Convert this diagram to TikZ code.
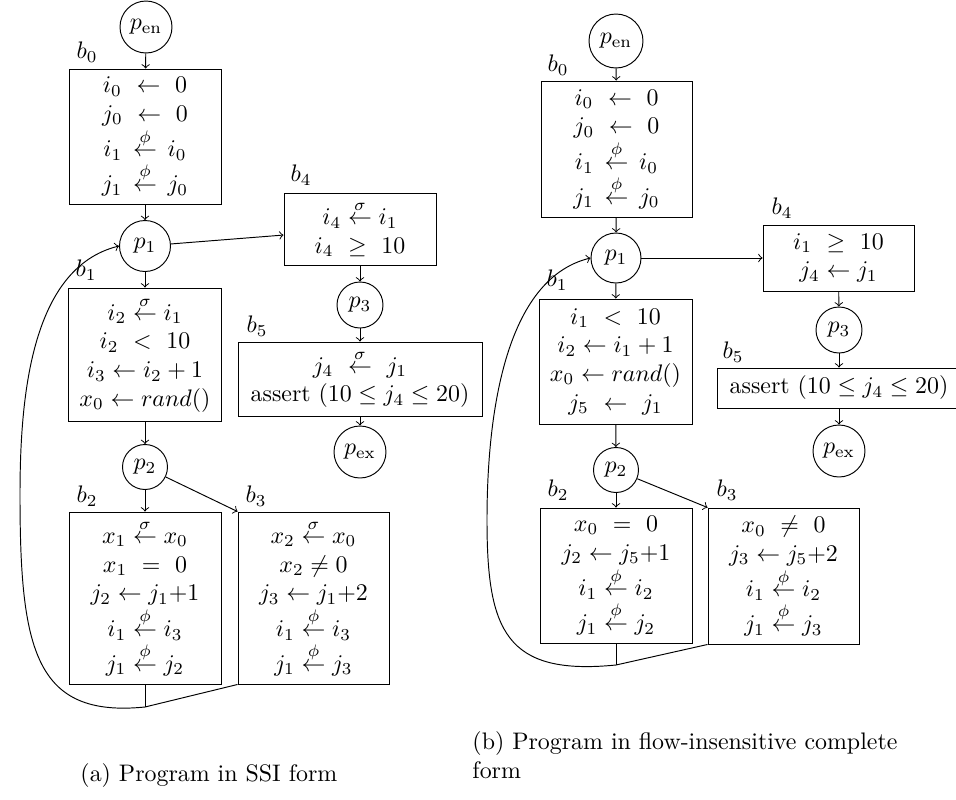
\documentclass[tikz,border=0pt]{standalone}
\usepackage{amsmath}
\def\pxu{0.41841pt}
\begin{document}
\begin{tikzpicture}[x=0.41841pt,y=-0.41841pt,
  blk/.style={draw,align=center,inner sep=0pt},
  circ/.style={draw,circle,inner sep=0pt},
  flow/.style={->},
  plain/.style={-}]
\useasboundingbox (0,0) rectangle (956,800);
% ---------------- left (a) ----------------
\node[circ,minimum size=52*\pxu] (Lpen) at (146,27) {$p_{\mathrm{en}}$};
\node[blk,minimum width=152*\pxu,minimum height=135*\pxu] (Lb0) at (145,136.5)
  {$i_0\ \leftarrow\ 0$\\ $j_0\ \leftarrow\ 0$\\ $i_1\,\stackrel{\phi}{\leftarrow}\,i_0$\\ $j_1\,\stackrel{\phi}{\leftarrow}\,j_0$};
\node (Lb0l) at (87,52) {$b_0$};
\node[circ,minimum size=51*\pxu] (Lp1) at (145,246) {$p_1$};
\node[blk,minimum width=153*\pxu,minimum height=133*\pxu] (Lb1) at (145,354.5)
  {$i_2 \stackrel{\sigma}{\leftarrow} i_1$\\ $i_2\ <\ 10$\\ $i_3 \leftarrow i_2 + 1$\\ $x_0 \leftarrow rand()$};
\node (Lb1l) at (86,270) {$b_1$};
\node[circ,minimum size=45*\pxu] (Lp2) at (145,467) {$p_2$};
\node[blk,minimum width=152*\pxu,minimum height=172*\pxu] (Lb2) at (145,598)
  {$x_1 \stackrel{\sigma}{\leftarrow} x_0$\\ $x_1\ =\ 0$\\ $j_2 \leftarrow j_1{+}1$\\ $i_1 \stackrel{\phi}{\leftarrow} i_3$\\ $j_1 \stackrel{\phi}{\leftarrow} j_2$};
\node (Lb2l) at (87,496) {$b_2$};
\node[blk,minimum width=151*\pxu,minimum height=172*\pxu] (Lb3) at (313.5,598)
  {$x_2 \stackrel{\sigma}{\leftarrow} x_0$\\ $x_2 \neq 0$\\ $j_3 \leftarrow j_1{+}2$\\ $i_1 \stackrel{\phi}{\leftarrow} i_3$\\ $j_1 \stackrel{\phi}{\leftarrow} j_3$};
\node (Lb3l) at (256,496) {$b_3$};
\node[blk,minimum width=152*\pxu,minimum height=72*\pxu] (Lb4) at (360,229)
  {$i_4 \stackrel{\sigma}{\leftarrow} i_1$\\ $i_4\ \geq\ 10$};
\node (Lb4l) at (301,175) {$b_4$};
\node[circ,minimum size=46*\pxu] (Lp3) at (360,305) {$p_3$};
\node[blk,minimum width=244*\pxu,minimum height=74*\pxu] (Lb5) at (360,379)
  {$j_4\ \stackrel{\sigma}{\leftarrow}\ j_1$\\ assert $(10 \leq j_4 \leq 20)$};
\node (Lb5l) at (257,326) {$b_5$};
\node[circ,minimum size=52*\pxu] (Lpex) at (360,452) {$p_{\mathrm{ex}}$};
\coordinate (mL) at (145,707);
\coordinate (cL) at (20,495);
\draw[flow] (Lpen) -- (Lb0);
\draw[flow] (Lb0) -- (Lp1);
\draw[flow] (Lp1) -- (Lb1);
\draw[flow] (Lb1) -- (Lp2);
\draw[flow] (Lp2) -- (Lb2);
\draw[flow] (Lp2) -- (Lb3.north west);
\draw[flow] (Lp1) -- (Lb4);
\draw[flow] (Lb4) -- (Lp3);
\draw[flow] (Lp3) -- (Lb5);
\draw[flow] (Lb5) -- (Lpex);
\draw[plain] (Lb2.south) -- (mL);
\draw[plain] (Lb3.south west) -- (mL);
\draw[flow] (mL) .. controls (35,718) and (20,650) .. (cL)
  .. controls (20,400) and (30,268) .. (Lp1.west);
% ---------------- right (b) ----------------
\node[circ,minimum size=54*\pxu] (Rpen) at (616,41) {$p_{\mathrm{en}}$};
\node[blk,minimum width=151*\pxu,minimum height=136*\pxu] (Rb0) at (616.5,149)
  {$i_0\ \leftarrow\ 0$\\ $j_0\ \leftarrow\ 0$\\ $i_1\,\stackrel{\phi}{\leftarrow}\,i_0$\\ $j_1\,\stackrel{\phi}{\leftarrow}\,j_0$};
\node (Rb0l) at (558,65) {$b_0$};
\node[circ,minimum size=50*\pxu] (Rp1) at (616,258) {$p_1$};
\node[blk,minimum width=153*\pxu,minimum height=125*\pxu] (Rb1) at (615.5,361.5)
  {$i_1\ <\ 10$\\ $i_2 \leftarrow i_1 + 1$\\ $x_0 \leftarrow rand()$\\ $j_5\ \leftarrow\ j_1$};
\node (Rb1l) at (557,280) {$b_1$};
\node[circ,minimum size=45*\pxu] (Rp2) at (616,470) {$p_2$};
\node[blk,minimum width=152*\pxu,minimum height=135*\pxu] (Rb2) at (616,575.5)
  {$x_0\ =\ 0$\\ $j_2 \leftarrow j_5{+}1$\\ $i_1 \stackrel{\phi}{\leftarrow} i_2$\\ $j_1 \stackrel{\phi}{\leftarrow} j_2$};
\node (Rb2l) at (558,490) {$b_2$};
\node[blk,minimum width=151*\pxu,minimum height=136*\pxu] (Rb3) at (783.5,576)
  {$x_0\ \neq\ 0$\\ $j_3 \leftarrow j_5{+}2$\\ $i_1 \stackrel{\phi}{\leftarrow} i_2$\\ $j_1 \stackrel{\phi}{\leftarrow} j_3$};
\node (Rb3l) at (727,490) {$b_3$};
\node[blk,minimum width=151*\pxu,minimum height=66*\pxu] (Rb4) at (838.5,258)
  {$i_1\ \geq\ 10$\\ $j_4 \leftarrow j_1$};
\node (Rb4l) at (782,208) {$b_4$};
\node[circ,minimum size=46*\pxu] (Rp3) at (839,330) {$p_3$};
\node[blk,minimum width=244*\pxu,minimum height=40*\pxu] (Rb5) at (839,388)
  {assert $(10 \leq j_4 \leq 20)$};
\node (Rb5l) at (733,352) {$b_5$};
\node[circ,minimum size=52*\pxu] (Rpex) at (839,451) {$p_{\mathrm{ex}}$};
\coordinate (mR) at (616,665);
\coordinate (cR) at (487,520);
\draw[flow] (Rpen) -- (Rb0);
\draw[flow] (Rb0) -- (Rp1);
\draw[flow] (Rp1) -- (Rb1);
\draw[flow] (Rb1) -- (Rp2);
\draw[flow] (Rp2) -- (Rb2);
\draw[flow] (Rp2) -- (Rb3.north west);
\draw[flow] (Rp1) -- (Rb4);
\draw[flow] (Rb4) -- (Rp3);
\draw[flow] (Rp3) -- (Rb5);
\draw[flow] (Rb5) -- (Rpex);
\draw[plain] (Rb2.south) -- (mR);
\draw[plain] (Rb3.south west) -- (mR);
\draw[flow] (mR) .. controls (505,676) and (487,630) .. (cR)
  .. controls (487,430) and (500,280) .. (Rp1.west);
% ---------------- captions ----------------
\node[anchor=base west,inner sep=0pt] (capA) at (80,781) {(a) Program in SSI form};
\node[anchor=north west,inner sep=0pt,text width=190pt,align=left] (capB) at (472,731)
  {(b) Program in flow-insensitive complete form};
\end{tikzpicture}
\end{document}
